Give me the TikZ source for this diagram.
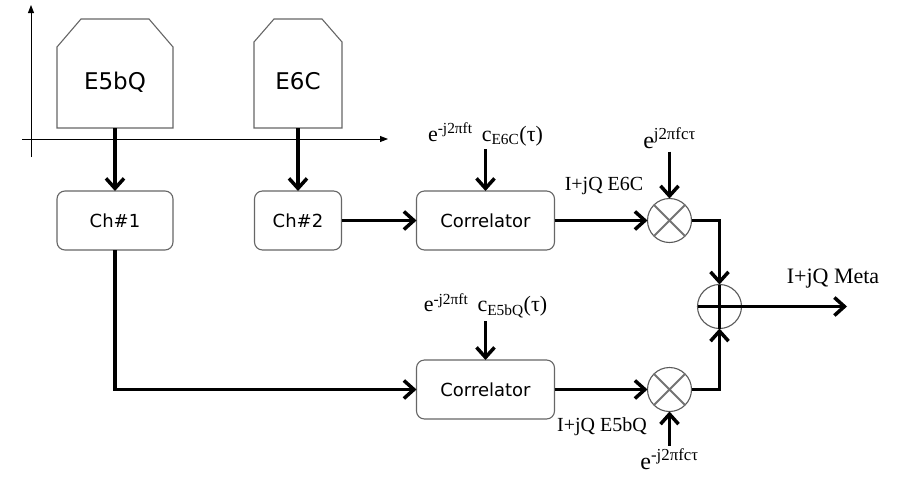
\documentclass[tikz,border=0pt]{standalone}
\usepackage{fontspec}
\setmainfont{Liberation Serif}
\newfontfamily\blockfont{DejaVu Sans}
\usetikzlibrary{arrows.meta,positioning}

\begin{document}
\begin{tikzpicture}[
    x=1pt, y=-1pt, outer sep=0pt,
    source/.style={minimum height=109pt, text height=31pt, text depth=0pt,
      font=\blockfont\fontsize{23}{26}\selectfont},
    outline/.style={draw=black!60, line width=1.1pt},
    box/.style={draw=black!60, line width=1.1pt, fill=white, rounded corners=8pt,
      minimum height=59pt, font=\blockfont\fontsize{18}{21}\selectfont},
    mixer/.style={circle, draw=black!65, line width=1.1pt, fill=white,
      minimum size=44pt, inner sep=0pt},
    lbl/.style={inner sep=3pt, font=\fontsize{22}{24}\selectfont},
    arrow/.style={-{Straight Barb[length=10pt,width=18pt]}, line width=3.5pt},
    axis/.style={-{Triangle[length=8pt,width=6pt]}, line width=0.9pt}
  ]
    \useasboundingbox (0,0) rectangle (904,477);

    % axes
    \coordinate (ybottom) at (31,157);
    \coordinate (ytop) at (31,5);
    \coordinate (xleft) at (22,139);
    \coordinate (xright) at (388,139);
    \draw[axis] (ybottom) -- (ytop);
    \draw[axis] (xleft) -- (xright);

    % signal sources, top corners cut off
    \node[source, minimum width=116pt] (e5bq) at (115,73.5) {E5bQ};
    \node[source, minimum width=88pt] (e6c) at (298,73.5) {E6C};
    \draw[outline] (e5bq.south west) -- ++(0,-81) -- ++(24,-28) -- ++(68,0)
      -- ++(24,28) -- (e5bq.south east) -- cycle;
    \draw[outline] (e6c.south west) -- ++(0,-86) -- ++(20,-23) -- ++(48,0)
      -- ++(20,23) -- (e6c.south east) -- cycle;

    \node[box, minimum width=116pt, below=63pt of e5bq] (ch1) {Ch\#1};
    \node[box, minimum width=87pt, below=63pt of e6c] (ch2) {Ch\#2};
    \node[box, minimum width=138pt, right=75pt of ch2] (corr1) {Correlator};
    \node[box, minimum width=138pt, below=110pt of corr1] (corr2) {Correlator};

    \node[mixer, right=93pt of corr1] (mix1) {};
    \node[mixer, below=125pt of mix1] (mix2) {};
    \node[mixer] (sum) at (719.5,306.5) {};
    \draw[black!55, line width=2pt] (mix1.north east) -- (mix1.south west)
      (mix1.north west) -- (mix1.south east);
    \draw[black!55, line width=2pt] (mix2.north east) -- (mix2.south west)
      (mix2.north west) -- (mix2.south east);
    \draw[line width=2.8pt] (sum.north) -- (sum.south) (sum.west) -- (sum.east);

    \node[lbl, above=42pt of corr1] (ref1)
      {e\textsuperscript{-j2πft}\, c\textsubscript{E6C}(τ)};
    \node[lbl, above=39pt of corr2] (ref2)
      {e\textsuperscript{-j2πft}\, c\textsubscript{E5bQ}(τ)};
    \node[lbl, font=\fontsize{24}{26}\selectfont, above=47pt of mix1] (lo1)
      {e\textsuperscript{j2πfcτ}};
    \node[lbl, font=\fontsize{24}{26}\selectfont, below=34pt of mix2] (lo2)
      {e\textsuperscript{-j2πfcτ}};
    \node[lbl, font=\fontsize{20}{22}\selectfont] (iq1) at (604,186) {I+jQ E6C};
    \node[lbl, font=\fontsize{20}{22}\selectfont] (iq2) at (602,427) {I+jQ E5bQ};
    \node[lbl, font=\fontsize{22}{24}\selectfont] (meta) at (833,279) {I+jQ Meta};
    \coordinate (out) at (847,306.5);

    \draw[arrow] (e5bq) -- (ch1);
    \draw[arrow] (e6c) -- (ch2);
    \draw[arrow] (ch2) -- (corr1);
    \draw[arrow] (ch1) |- (corr2);
    \draw[arrow] (ref1) -- (corr1);
    \draw[arrow] (ref2) -- (corr2);
    \draw[arrow] (corr1) -- (mix1);
    \draw[arrow] (corr2) -- (mix2);
    \draw[arrow] (lo1) -- (mix1);
    \draw[arrow] (lo2) -- (mix2);
    \draw[arrow] (mix1.east) -| (sum.north);
    \draw[arrow] (mix2.east) -| (sum.south);
    \draw[arrow] (sum) -- (out);
  \end{tikzpicture}
\end{document}
